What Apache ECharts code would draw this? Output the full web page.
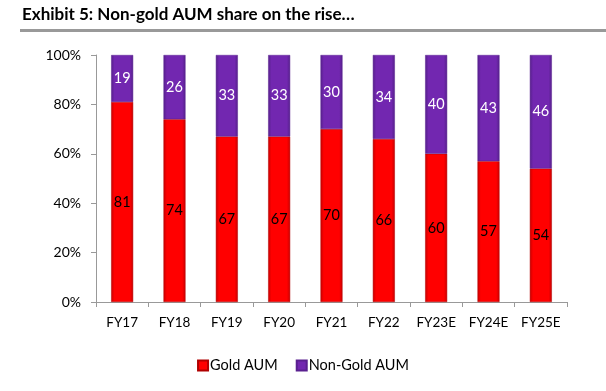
<!DOCTYPE html>
<html><head><meta charset="utf-8">
<script src="https://cdn.jsdelivr.net/npm/echarts@6/dist/echarts.min.js"></script>
<style>html,body{margin:0;padding:0;background:#fff}#c{width:606px;height:391px}</style>
</head><body><div id="c"></div>
<script>
const titleText = 'Exhibit 5: Non-gold AUM share on the rise…';
const categories = ['FY17','FY18','FY19','FY20','FY21','FY22','FY23E','FY24E','FY25E'];
const goldAUM = [81,74,67,67,70,66,60,57,54];
const nonGoldAUM = [19,26,33,33,30,34,40,43,46];
const seriesNames = ['Gold AUM','Non-Gold AUM'];

const FONT = 'Lato, "Open Sans", sans-serif';
function grad(edge, mid){
  return new echarts.graphic.LinearGradient(0,0,1,0,[
    {offset:0,color:edge},{offset:0.15,color:mid},{offset:0.85,color:mid},{offset:1,color:edge}]);
}
const chart = echarts.init(document.getElementById('c'), null, {renderer:'canvas'});
chart.setOption({
  animation:false,
  graphic:[
    {type:'text',left:22,top:6,style:{text:titleText,font:'bold 17px '+FONT,fill:'#000'}},
    {type:'rect',shape:{x:20,y:29,width:586,height:3},style:{fill:'#999'}}
  ],
  legend:{
    data:seriesNames,
    left:'center', top:353,
    itemWidth:10,itemHeight:10,itemGap:18,
    icon:'rect',
    textStyle:{fontFamily:FONT,fontSize:14.5,color:'#000',padding:[0,0,0,-3]}
  },
  grid:{left:96,right:39,top:55,bottom:89},
  xAxis:{
    type:'category',data:categories,
    axisLine:{lineStyle:{color:'#999'}},
    axisTick:{show:true,length:5,lineStyle:{color:'#999'}},
    axisLabel:{fontFamily:FONT,fontSize:13.5,color:'#000',margin:14}
  },
  yAxis:{
    type:'value',min:0,max:100,interval:20,
    axisLine:{show:true,lineStyle:{color:'#999'}},
    axisTick:{show:true,inside:false,length:5,lineStyle:{color:'#999'}},
    splitLine:{show:false},
    axisLabel:{fontFamily:FONT,fontSize:14,color:'#000',margin:15,formatter:'{value}%'}
  },
  series:[
    {name:seriesNames[0],type:'bar',stack:'s',data:goldAUM,barWidth:22,
     itemStyle:{color:grad('#C80000','#FF0000'),borderColor:'#B00000',borderWidth:0.5},
     label:{show:true,position:'inside',color:'#000',fontFamily:FONT,fontSize:14.5}},
    {name:seriesNames[1],type:'bar',stack:'s',data:nonGoldAUM,barWidth:22,
     itemStyle:{color:grad('#55208A','#7227B0'),borderColor:'#5A2090',borderWidth:0.5},
     label:{show:true,position:'inside',color:'#fff',fontFamily:FONT,fontSize:14.5}}
  ]
});
</script></body></html>
